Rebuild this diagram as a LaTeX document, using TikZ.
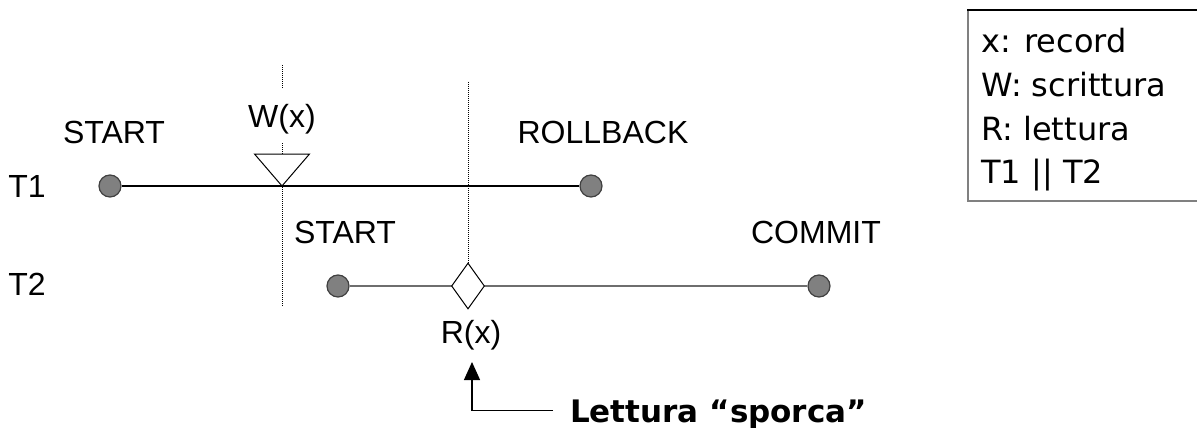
\documentclass[tikz,border=0pt]{standalone}
\usepackage{fontspec}
\setmainfont{Liberation Sans}
\newfontfamily\legendfont{DejaVu Sans}
\usetikzlibrary{shapes.geometric,arrows.meta}
\definecolor{evfill}{RGB}{128,128,128}
\definecolor{evdraw}{RGB}{64,64,64}
\definecolor{tline}{RGB}{110,110,110}
\definecolor{boxgray}{RGB}{128,128,128}
\begin{document}
\begin{tikzpicture}[x=1pt,y=-1pt,
  lbl/.style={font=\fontsize{32}{38}\selectfont, inner sep=0pt, anchor=base},
  event/.style={circle, fill=evfill, draw=evdraw, line width=1.2pt, minimum size=22pt, inner sep=0pt},
  timeline/.style={line width=1.5pt},
  vdot/.style={line width=0.9pt, dash pattern=on 1pt off 1pt},
  leg/.style={font=\legendfont\fontsize{32}{38}\selectfont, inner sep=0pt, anchor=base west},
  marker/.style={draw=black, fill=white, line width=1pt}]

\useasboundingbox (0,0) rectangle (1197,428);

% event circles
\node[event] (s1) at (110,186) {};
\node[event] (rb) at (591,186) {};
\node[event] (s2) at (338,286) {};
\node[event] (cm) at (819,286) {};

% timelines
\draw[timeline] (s1) -- (rb);
\draw[timeline, draw=tline, line width=2pt] (s2) -- (cm);

% dotted verticals
\coordinate (d1t) at (282,65);
\coordinate (d1b) at (282,307);
\draw[vdot] (d1t) -- (d1b);

\node[marker, diamond, minimum width=33pt, minimum height=46pt, inner sep=0pt] (rd) at (468,286) {};
\coordinate (d2t) at (468,82);
\draw[vdot] (d2t) -- (rd.north);

% write triangle
\coordinate (wtip) at (282,186);
\draw[marker] (wtip) -- ++(-27.5,-32) -- ++(55,0) -- cycle;

% labels
\node[lbl] (st1) at (114,143) {START};
\node[lbl, fill=white, text height=40pt, text depth=15pt] (wx) at (282,128) {W(x)};
\node[lbl] (rbl) at (603,143) {ROLLBACK};
\node[lbl] (t1) at (27,197) {T1};
\node[lbl] (st2) at (345,243) {START};
\node[lbl] (cml) at (816,243) {COMMIT};
\node[lbl] (t2) at (27,295) {T2};
\node[lbl] (rx) at (471,343) {R(x)};

% dirty read note
\node[anchor=base west, inner xsep=17pt, inner ysep=0pt, text depth=0pt,
      font=\legendfont\bfseries\fontsize{31}{37}\selectfont] (lett) at (553,422) {Lettura “sporca”};
\coordinate (tip) at (472,362);
\draw[line width=1.2pt, -{Triangle[width=16pt,length=18pt]}] (lett.west) -| (tip);

% legend
\node[draw=boxgray, line width=1.5pt, anchor=north west, minimum width=260pt, minimum height=190pt, inner sep=0pt] (legbox) at (967,10) {};
\draw[line width=1.5pt] (legbox.north west) -- (legbox.north east);
\node[leg] (l1) at (981,53) {x: record};
\node[leg] (l2) at (981,96) {W: scrittura};
\node[leg] (l3) at (981,140) {R: lettura};
\node[leg] (l4) at (981,183) {T1 || T2};
\end{tikzpicture}
\end{document}
